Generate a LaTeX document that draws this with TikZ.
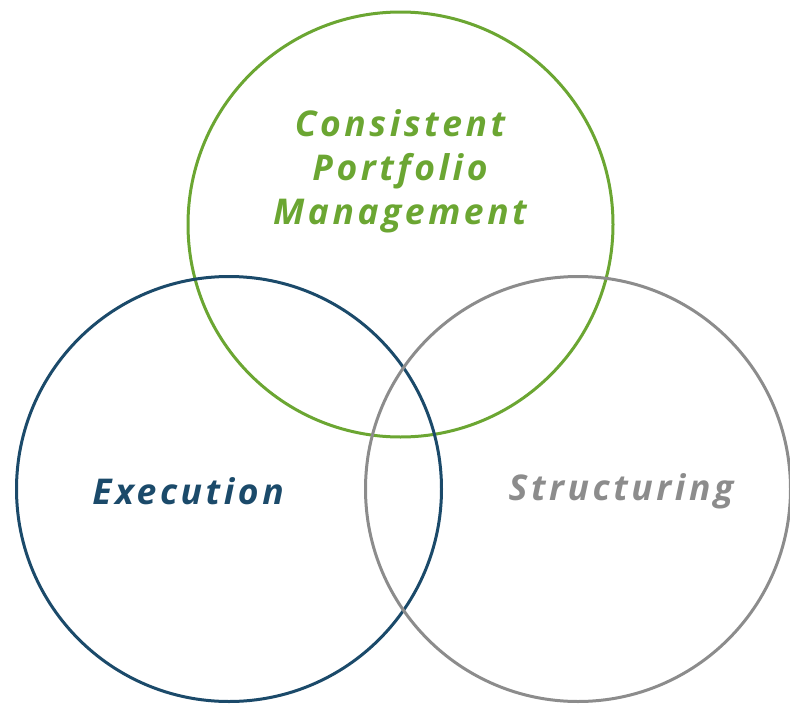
\documentclass[tikz,border=0pt]{standalone}
\usepackage{fontspec}
\usepackage{tikz}
\newfontfamily\vennfont{Open Sans}[LetterSpace=10]
\definecolor{vgreen}{HTML}{6BA632}
\definecolor{vblue}{HTML}{1B4A6A}
\definecolor{vgray}{HTML}{8C8C8C}
\tikzset{
    ring/.style={circle,draw=#1,line width=3pt,minimum size=425pt,inner sep=0pt},
    vennlabel/.style={text=#1,font=\vennfont\bfseries\itshape\fontsize{35.5}{44}\selectfont,align=center}
}

\begin{document}
\begin{tikzpicture}[line cap=round,line join=round,x=1pt,y=-1pt]
                \useasboundingbox (0,0) rectangle (790,704);
                \node [ring=vgreen] (cpm) at (400.5,224.5) {};
                \node [ring=vblue] (exe) at (229,489) {};
                \node [ring=vgray] (str) at (578,489) {};
                \node [vennlabel=vgreen] (cpmtext) at (400,171) {Consistent\\Portfolio\\Management};
                \node [vennlabel=vblue] (exetext) at (188,491) {Execution};
                \node [vennlabel=vgray] (strtext) at (621,491) {Structuring};
\end{tikzpicture}
\end{document}
